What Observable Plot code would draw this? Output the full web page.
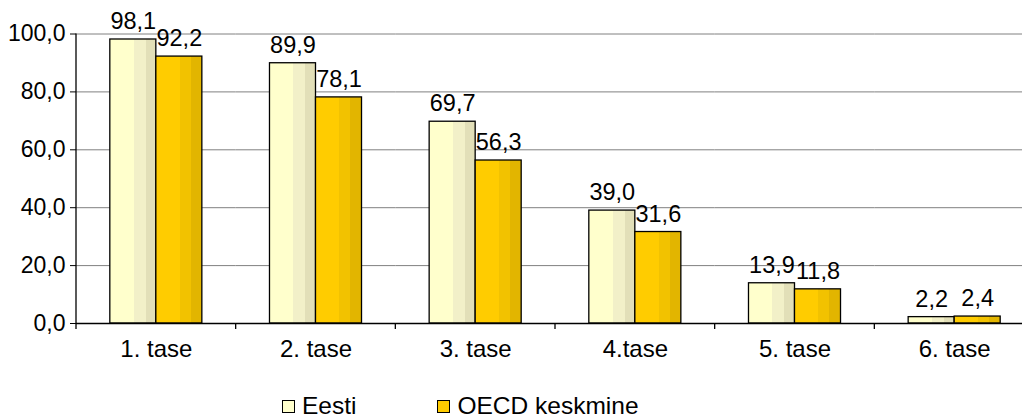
<!DOCTYPE html>
<html><head><meta charset="utf-8">
<script src="https://cdn.jsdelivr.net/npm/d3@7"></script>
<script src="https://cdn.jsdelivr.net/npm/@observablehq/plot@0.6"></script>
<style>
body{margin:0;background:#fff;font-family:"Liberation Sans",Arial,sans-serif;}
#wrap{position:relative;width:1022px;height:419px;overflow:hidden;background:#fff}
#legend{position:absolute;left:282px;top:396px;display:flex;align-items:center;font-size:24.5px;line-height:20px;color:#000;white-space:nowrap}
.item{display:flex;align-items:center}
.sw{display:inline-block;width:11px;height:11px;border:1.3px solid #000;margin-right:7px}
</style></head><body>
<div id="wrap"><div id="chart"></div><div id="legend"></div></div>
<script>
const categories = ["1. tase", "2. tase", "3. tase", "4.tase", "5. tase", "6. tase"];
const eestiValues = [98.1, 89.9, 69.7, 39.0, 13.9, 2.2];
const oecdValues = [92.2, 78.1, 56.3, 31.6, 11.8, 2.4];
const seriesNames = ["Eesti", "OECD keskmine"];
const yTicks = [0, 20, 40, 60, 80, 100];

const swatchColors = ["#FFFFCC", "#FFCC00"];
const gradientStops = [
  [[0, "#FFFFCC"], [0.52, "#FFFFCC"], [0.52, "#F2F0C8"], [0.78, "#F2F0C8"], [0.78, "#E2DFB8"], [1, "#E2DFB8"]],
  [[0, "#FFCC00"], [0.52, "#FFCC00"], [0.52, "#F2C200"], [0.76, "#F2C200"], [0.76, "#E2B500"], [1, "#E2B500"]]
];
const gradientIds = ["gEesti", "gOECD"];

const data = categories.flatMap((c, i) => [
  {category: c, series: seriesNames[0], value: eestiValues[i]},
  {category: c, series: seriesNames[1], value: oecdValues[i]}
]);
const fmt = d3.formatLocale({decimal: ",", thousands: " ", grouping: [3], currency: ["", ""]}).format(".1f");

const plot = Plot.plot({
  width: 1022, height: 380,
  marginLeft: 76, marginRight: -12, marginTop: 33.5, marginBottom: 57,
  style: {fontFamily: "'Liberation Sans', Arial, sans-serif", fontSize: "23px", color: "#000", background: "#fff"},
  fx: {domain: categories, padding: 0, label: null, round: false},
  x: {domain: seriesNames, paddingInner: 0, paddingOuter: 0.735, axis: null, round: false},
  y: {domain: [0, 100]},
  color: {domain: seriesNames, range: gradientIds.map(id => `url(#${id})`)},
  marks: [
    Plot.ruleY(yTicks.filter(d => d > 0), {stroke: "#808080", strokeWidth: 1}),
    Plot.barY(data, {fx: "category", x: "series", y: "value", fill: "series", stroke: "#000", strokeWidth: 1.3}),
    Plot.ruleY([0], {stroke: "#000", strokeWidth: 1.3}),
    Plot.text(data, {fx: "category", x: "series", y: "value", text: d => fmt(d.value), dy: -18, fill: "#000", fontSize: 23.5}),
    Plot.axisY({ticks: yTicks, tickFormat: fmt, tickSize: 6, tickPadding: 5, fontSize: 23, label: null, stroke: "#000"}),
    Plot.axisFx({anchor: "bottom", tickSize: 0, tickPadding: 16, fontSize: 24, label: null})
  ]
});

const svg = plot;
// gradients
const defs = d3.create("svg:defs");
gradientIds.forEach((id, k) => {
  const g = defs.append("linearGradient").attr("id", id).attr("x1", 0).attr("x2", 1).attr("y1", 0).attr("y2", 0);
  gradientStops[k].forEach(([o, c]) => g.append("stop").attr("offset", o).attr("stop-color", c));
});
svg.insertBefore(defs.node(), svg.firstChild);

// axis line and category boundary ticks from Plot's scales
const ys = plot.scale("y"), fxs = plot.scale("fx");
const y0 = ys.apply(0), yTop = ys.apply(100);
const sel = d3.select(svg);
const g = sel.append("g").attr("stroke", "#000").attr("stroke-width", 1.3);
const x0 = fxs.apply(categories[0]);
g.append("line").attr("x1", x0).attr("x2", x0).attr("y1", yTop).attr("y2", y0);
const bounds = categories.map(c => fxs.apply(c)).concat([fxs.apply(categories[categories.length - 1]) + fxs.bandwidth]);
bounds.forEach(b => g.append("line").attr("x1", b).attr("x2", b).attr("y1", y0).attr("y2", y0 + 6));

document.getElementById("chart").appendChild(svg);

// legend
const legend = d3.select("#legend");
seriesNames.forEach((name, i) => {
  const it = legend.append("div").attr("class", "item").style("margin-right", i === 0 ? "81px" : "0");
  it.append("span").attr("class", "sw").style("background", swatchColors[i]);
  it.append("span").text(name);
});
</script>
</body></html>
